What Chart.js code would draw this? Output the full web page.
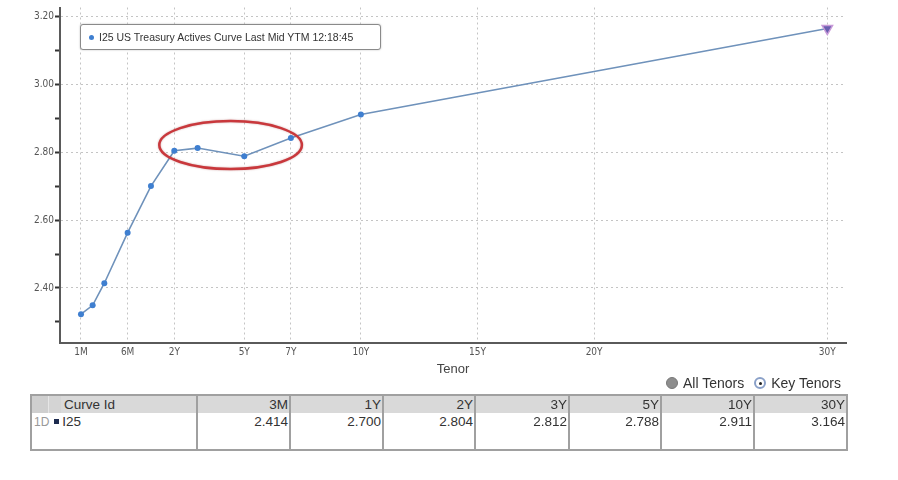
<!DOCTYPE html>
<html>
<head>
<meta charset="utf-8">
<script src="https://cdn.jsdelivr.net/npm/chart.js@4"></script>
<style>
  body { margin: 0; background: #fff; width: 898px; height: 480px; position: relative; overflow: hidden; font-family: 'Liberation Sans', Arial, sans-serif; }
  #chart_wrap { position: absolute; left: 0; top: 0; width: 898px; height: 380px; }
  #legend_box { position: absolute; left: 80px; top: 24px; width: 299px; height: 24px; border: 1px solid #8a8a8a; border-radius: 3px;
    box-shadow: 0 0 2px #bbb; background: #fff; font-size: 10.5px; color: #333; line-height: 24px; white-space: nowrap; }
  #legend_box .dot { display: inline-block; width: 5px; height: 5px; border-radius: 50%; background: #3f7fd0; margin: 0 5px 1px 8px; }
  #radios { position: absolute; left: 666px; top: 375px; font-size: 14px; color: #333; white-space: nowrap; }
  #radios .r { display: inline-block; width: 12px; height: 12px; border-radius: 50%; vertical-align: -1px; margin-right: 5px; box-sizing: border-box; }
  #radios .off { background: #8d8d8d; border: 1px solid #777; }
  #radios .on { background: #fff; border: 2px solid #8aa0c8; position: relative; margin-left: 10px; }
  #radios .on::after { content: ''; position: absolute; left: 2.5px; top: 2.5px; width: 3px; height: 3px; border-radius: 50%; background: #222; }
  #tbl { position: absolute; left: 30px; top: 394px; width: 816px; table-layout: fixed; border-collapse: collapse; font-size: 13.5px; color: #333; border: 2px solid #a0a0a0; }
  #tbl td { border-left: 2px solid #a0a0a0; border-right: 2px solid #a0a0a0; padding: 0 1px 0 0; text-align: right; vertical-align: top; overflow: hidden; white-space: nowrap; }
  #tbl tr.hd td { background: #d9d9d9; height: 17px; line-height: 17px; }
  #tbl tr.bd td { height: 36px; line-height: 17px; background: #fff; }
  #tbl td.first { text-align: left; }
  .sq { display: inline-block; width: 5px; height: 5px; background: #1d2b4f; margin: 0 3px 2px 5px; }
  .idcell { color: #999; font-size: 12px; padding-left: 2px; }
</style>
</head>
<body>
<div id="chart_wrap"><canvas id="curveChart" width="898" height="380"></canvas></div>
<div id="legend_box"><span class="dot"></span><span id="legend_text"></span></div>
<div id="radios"><span class="r off"></span>All Tenors<span class="r on"></span>Key Tenors</div>
<table id="tbl"><colgroup id="tbl_cols"></colgroup><tbody id="tbl_body"></tbody></table>
<script>
// curve points (tenor, yield)
const tenor_labels = ['1M', '2M', '3M', '6M', '1Y', '2Y', '3Y', '5Y', '7Y', '10Y', '30Y']
const yields = [2.323, 2.349, 2.414, 2.563, 2.700, 2.804, 2.812, 2.788, 2.842, 2.911, 3.164]

// axis / table labels
const x_tick_labels = ['1M', '6M', '2Y', '5Y', '7Y', '10Y', '15Y', '20Y', '30Y']
const y_ticks = [2.3, 2.4, 2.5, 2.6, 2.7, 2.8, 2.9, 3.0, 3.1, 3.2]
const key_tenors = ['3M', '1Y', '2Y', '3Y', '5Y', '10Y', '30Y']
const highlight_tenors = ['2Y', '7Y']

const curve_name = 'I25 US Treasury Actives Curve Last Mid YTM 12:18:45'
const curve_id = 'I25'

// bloomberg tenor axis: short end spaced evenly (1M,3M,6M,1Y), then linear in years
function tenor_years(label) {
  const n = parseFloat(label)
  return label.endsWith('M') ? n / 12 : n
}
function tenor_pos(label) {
  const y = tenor_years(label)
  if (y >= 1) return y
  if (y >= 0.5) return (y - 0.5) / 0.5
  if (y >= 0.25) return -1 + (y - 0.25) / 0.25
  return -2 + (y - 1 / 12) / (1 / 6)
}

const tick_font = { family: "'Liberation Sans Narrow', 'DejaVu Sans Condensed', 'Liberation Sans', sans-serif", size: 10 }
const last_idx = tenor_labels.length - 1

const points = tenor_labels.map((t, i) => ({ x: tenor_pos(t), y: yields[i] }))

const ellipse_plugin = {
  id: 'ellipse_plugin',
  afterDatasetsDraw(chart) {
    const xs = chart.scales.x, ys = chart.scales.y
    const i0 = tenor_labels.indexOf(highlight_tenors[0])
    const i1 = tenor_labels.indexOf(highlight_tenors[1])
    const seg = yields.slice(i0, i1 + 1)
    const x0 = xs.getPixelForValue(tenor_pos(highlight_tenors[0]))
    const x1 = xs.getPixelForValue(tenor_pos(highlight_tenors[1]))
    const ya = ys.getPixelForValue(Math.max(...seg))
    const yb = ys.getPixelForValue(Math.min(...seg))
    const ctx = chart.ctx
    ctx.save()
    ctx.strokeStyle = '#c9383c'
    ctx.lineWidth = 2.5
    ctx.shadowColor = 'rgba(120,0,0,0.35)'
    ctx.shadowBlur = 2
    ctx.beginPath()
    ctx.ellipse((x0 + x1) / 2 - 2, (ya + yb) / 2 - 2, (x1 - x0) / 2 + 13, 24, 0, 0, Math.PI * 2)
    ctx.stroke()
    ctx.restore()
  }
}

const ctx = document.getElementById('curveChart')
const chart = new Chart(ctx, {
  type: 'scatter',
  data: {
    datasets: [{
      label: curve_name,
      data: points,
      showLine: true,
      borderColor: '#6f92bb',
      borderWidth: 1.6,
      backgroundColor: (c) => c.dataIndex === last_idx ? '#6a5fb0' : '#3f7fd0',
      pointBorderColor: (c) => c.dataIndex === last_idx ? '#c89ad8' : '#3f7fd0',
      pointBorderWidth: (c) => c.dataIndex === last_idx ? 1.5 : 0,
      pointRadius: (c) => c.dataIndex === last_idx ? 6 : 3,
      pointStyle: (c) => c.dataIndex === last_idx ? 'triangle' : 'circle',
      pointRotation: (c) => c.dataIndex === last_idx ? 180 : 0,
      tension: 0
    }]
  },
  options: {
    responsive: false,
    animation: false,
    devicePixelRatio: 1,
    layout: { padding: { top: 7, right: 52, left: 0, bottom: 0 } },
    plugins: { legend: { display: false }, tooltip: { enabled: false } },
    scales: {
      x: {
        type: 'linear',
        min: -2.9,
        max: 30.8,
        afterFit: (s) => { s.height = 37 },
        afterBuildTicks: (s) => { s.ticks = x_tick_labels.map(t => ({ value: tenor_pos(t) })) },
        ticks: {
          autoSkip: false,
          maxRotation: 0,
          padding: 3,
          color: '#555',
          font: tick_font,
          callback: (v) => x_tick_labels.find(t => Math.abs(tenor_pos(t) - v) < 1e-6) || ''
        },
        grid: { color: '#c4c4c4', lineWidth: 1, drawTicks: false },
        border: { color: '#5a5a5a', width: 2, dash: [2, 3] },
        title: { display: true, text: 'Tenor', color: '#444', font: { family: "'Liberation Sans', sans-serif", size: 13 }, padding: { top: 2, bottom: 3 } }
      },
      y: {
        type: 'linear',
        min: 2.238,
        max: 3.226,
        afterFit: (s) => { s.width = 60 },
        afterBuildTicks: (s) => { s.ticks = y_ticks.map(v => ({ value: v })) },
        ticks: {
          padding: 1,
          color: '#555',
          font: tick_font,
          callback: (v) => Math.round(v * 10) % 2 === 0 ? v.toFixed(2) : ''
        },
        grid: {
          color: (c) => (c.tick && Math.round(c.tick.value * 10) % 2 === 0) ? '#c4c4c4' : 'rgba(0,0,0,0)',
          tickColor: '#333',
          tickLength: 5,
          tickWidth: 2,
          lineWidth: 1
        },
        border: { color: '#5a5a5a', width: 2, dash: [2, 3] }
      }
    }
  },
  plugins: [ellipse_plugin]
})

document.getElementById('legend_text').textContent = chart.data.datasets[0].label

// key tenor table
function create_table() {
  const body = document.getElementById('tbl_body')
  const cols = document.getElementById('tbl_cols')
  const col_widths = [166, 93, 93, 92, 94, 92, 93, 93]
  col_widths.forEach(w => {
    const col = document.createElement('col')
    col.style.width = w + 'px'
    cols.appendChild(col)
  })
  const hd = document.createElement('tr')
  hd.className = 'hd'
  const bd = document.createElement('tr')
  bd.className = 'bd'
  const h0 = document.createElement('td')
  h0.className = 'first'
  h0.innerHTML = '<span style="display:inline-block;width:16px;height:17px;background:#cfcfcf;vertical-align:top"></span>' +
    '<span style="display:inline-block;width:12px;height:17px;background:#d4d4d4;vertical-align:top;border-left:1px solid #e6e6e6"></span>' +
    '<span style="padding-left:3px">Curve Id</span>'
  hd.appendChild(h0)
  const b0 = document.createElement('td')
  b0.className = 'first'
  b0.innerHTML = '<span class="idcell">1D</span><span class="sq"></span>' + curve_id
  bd.appendChild(b0)
  key_tenors.forEach((t) => {
    const th = document.createElement('td')
    th.textContent = t
    hd.appendChild(th)
    const td = document.createElement('td')
    td.textContent = yields[tenor_labels.indexOf(t)].toFixed(3)
    bd.appendChild(td)
  })
  body.appendChild(hd)
  body.appendChild(bd)
}
create_table()
</script>
</body>
</html>
